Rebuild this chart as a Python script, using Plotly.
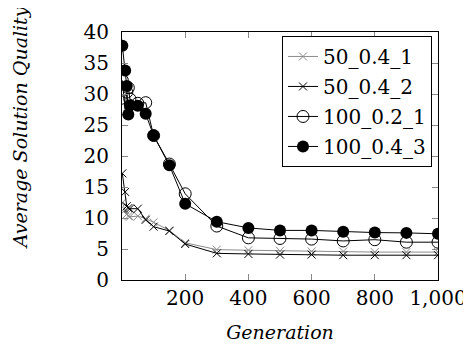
import plotly.graph_objects as go

generations = [1, 10, 15, 20, 25, 50, 75, 100, 150, 200, 300, 400, 500, 600, 700, 800, 900, 1000]
s50_04_1 = [12.5, 11.3, 10.6, 10.3, 10.2, 10.3, 9.9, 9.3, 8.0, 6.0, 4.9, 4.8, 4.7, 4.6, 4.6, 4.5, 4.5, 4.5]
s50_04_2 = [17.2, 14.2, 11.9, 11.6, 11.5, 11.5, 9.7, 8.6, 7.9, 5.8, 4.3, 4.2, 4.1, 4.1, 4.0, 4.0, 4.0, 4.0]
s100_02_1 = [32.2, 27.5, 30.3, 31.0, 29.2, 28.5, 28.6, 23.3, 18.7, 13.9, 8.7, 6.8, 6.7, 6.6, 6.3, 6.5, 6.1, 6.1]
s100_04_3 = [37.8, 33.8, 31.3, 26.7, 28.2, 28.1, 26.8, 23.3, 18.5, 12.3, 9.4, 8.4, 8.0, 8.0, 7.8, 7.65, 7.6, 7.45]
names = ["50_0.4_1", "50_0.4_2", "100_0.2_1", "100_0.4_3"]
x_tickvals = [200, 400, 600, 800, 1000]
x_ticktext = ["200", "400", "600", "800", "1,000"]
y_tickvals = [0, 5, 10, 15, 20, 25, 30, 35, 40]

FONT = "DejaVu Serif"

fig = go.Figure()
fig.add_trace(go.Scatter(x=generations, y=s50_04_1, name=names[0], legendgroup="g1", mode="lines+markers",
                         line=dict(color="#8c8c8c", width=1),
                         marker=dict(symbol="x-thin", size=8, line=dict(color="#8c8c8c", width=1))))
fig.add_trace(go.Scatter(x=generations, y=s50_04_2, name=names[1], legendgroup="g2", mode="lines+markers",
                         line=dict(color="black", width=1),
                         marker=dict(symbol="x-thin", size=8, line=dict(color="black", width=1))))
fig.add_trace(go.Scatter(x=generations, y=s100_02_1, name=names[2], legendgroup="g3", mode="lines+markers",
                         line=dict(color="black", width=1),
                         marker=dict(symbol="circle-open", size=12, color="black", line=dict(width=1))))
fig.add_trace(go.Scatter(x=generations, y=s100_04_3, name=names[3], legendgroup="g4", mode="lines+markers",
                         line=dict(color="black", width=1),
                         marker=dict(symbol="circle", size=12, color="black")))

fig.update_layout(
    width=471, height=347,
    margin=dict(l=114, r=38, t=14, b=75),
    paper_bgcolor="white", plot_bgcolor="white",
    font=dict(family=FONT, size=20, color="black"),
    showlegend=True,
    legend=dict(x=0.981, y=0.984, xanchor="right", yanchor="top",
                bordercolor="black", borderwidth=1, bgcolor="white",
                font=dict(family=FONT, size=20, color="black"), tracegroupgap=1,
                entrywidth=165, entrywidthmode="pixels"),
    xaxis=dict(range=[0, 1000], tickvals=x_tickvals, ticktext=x_ticktext,
               ticks="inside", ticklen=6, tickcolor="#888", showgrid=False, zeroline=False,
               showline=True, linecolor="black", linewidth=1, mirror="ticks",
               title=dict(text="<i>Generation</i>", font=dict(family=FONT, size=19, color="black"), standoff=16),
               tickfont=dict(family=FONT, size=20, color="black")),
    yaxis=dict(range=[0, 40], tickvals=y_tickvals,
               ticks="inside", ticklen=6, tickcolor="#888", showgrid=False, zeroline=False,
               showline=True, linecolor="black", linewidth=1, mirror="ticks",
               ticklabelstandoff=8,
               tickfont=dict(family=FONT, size=20, color="black")),
    annotations=[dict(text="<i>Average Solution Quality</i>", textangle=-90,
                      xref="paper", yref="paper", x=-0.323, y=0.616,
                      xanchor="center", yanchor="middle", showarrow=False,
                      font=dict(family=FONT, size=19, color="black"))],
)

fig.write_html("out.html")
